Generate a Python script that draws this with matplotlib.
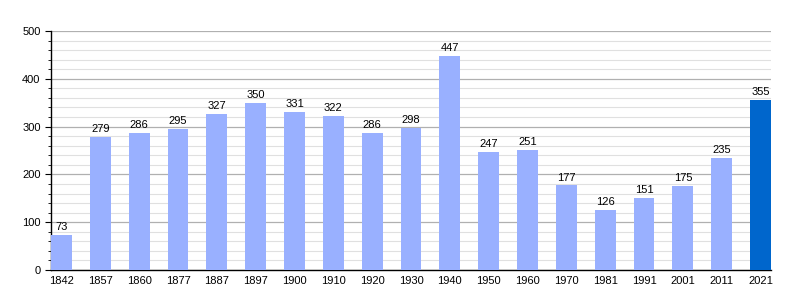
import matplotlib
matplotlib.use("Agg")
import matplotlib.pyplot as plt
from matplotlib.ticker import MultipleLocator

plt.rcParams['font.family'] = ['Liberation Sans', 'DejaVu Sans']

years = ["1842","1857","1860","1877","1887","1897","1900","1910","1920","1930",
         "1940","1950","1960","1970","1981","1991","2001","2011","2021"]
values = [73,279,286,295,327,350,331,322,286,298,447,247,251,177,126,151,175,235,355]

fig = plt.figure(figsize=(8,3), dpi=100)
ax = fig.add_axes([51/800, 30/300, (771-51)/800, (270-31)/300])
x = list(range(len(years)))
colors = ["#99b0ff"]*(len(years)-1) + ["#0066cc"]
w = 0.54
ax.bar(x, values, width=w, color=colors, zorder=3)
for xi, v in zip(x, values):
    ax.text(xi, v + 6, str(v), ha="center", va="bottom", fontsize=8, zorder=4)
ax.set_xlim(-w/2, len(years)-1+w/2)
ax.set_ylim(0, 500)
ax.yaxis.set_major_locator(MultipleLocator(100))
ax.yaxis.set_minor_locator(MultipleLocator(20))
ax.grid(axis="y", which="major", color="#b0b0b0", linewidth=0.9, zorder=0)
ax.grid(axis="y", which="minor", color="#e0e0e0", linewidth=0.8, zorder=0)
ax.set_xticks(x)
ax.set_xticklabels(years)
ax.tick_params(axis="x", length=0, labelsize=8, pad=4)
ax.tick_params(axis="y", which="major", length=4, labelsize=8, direction="out")
ax.tick_params(axis="y", which="minor", length=2.5, direction="out")
for s in ["top","right"]:
    ax.spines[s].set_visible(False)
ax.spines["left"].set_linewidth(1)
ax.spines["bottom"].set_linewidth(1)
fig.savefig("out.png", dpi=100)
